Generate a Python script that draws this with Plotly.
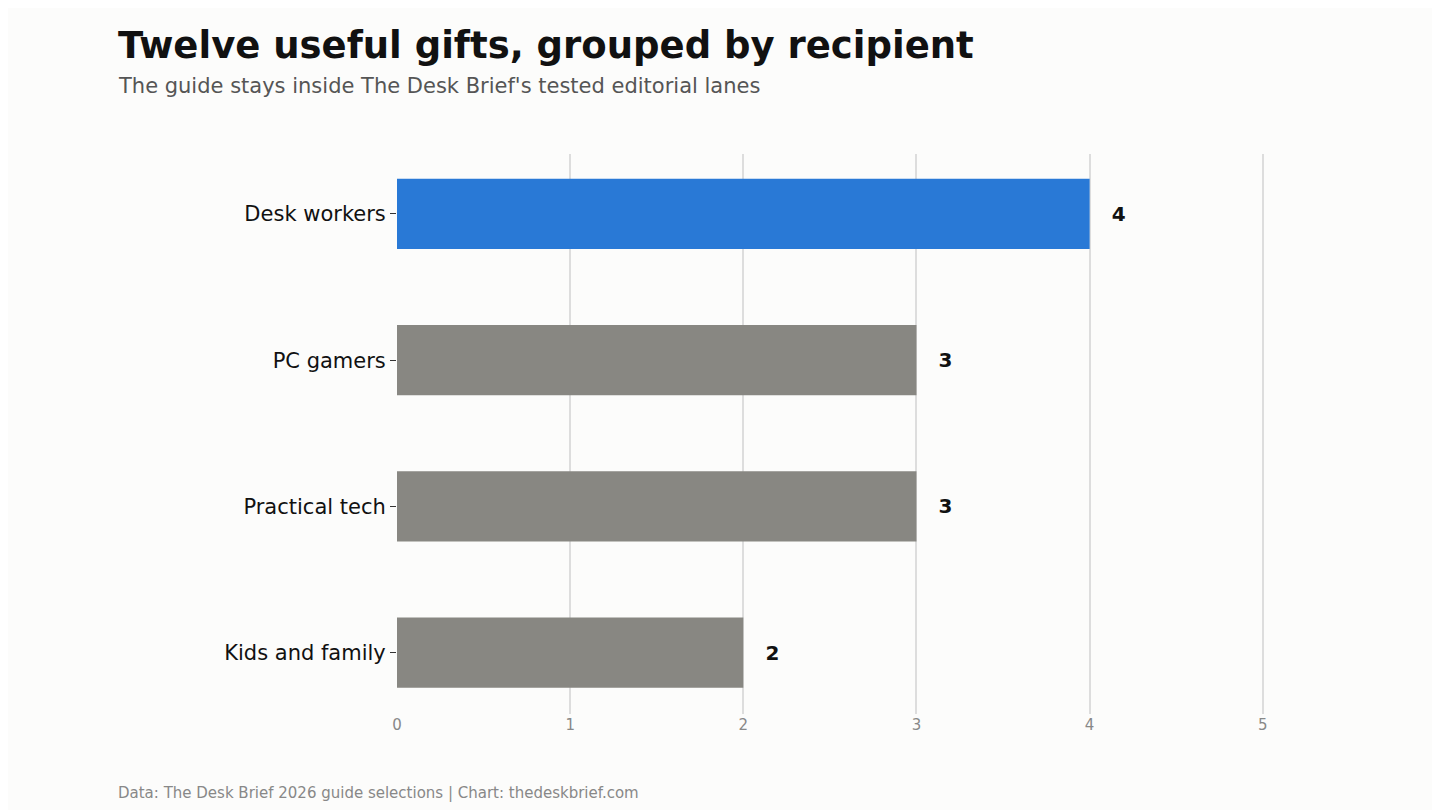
import plotly.graph_objects as go

# chart data
categories = ["Kids and family", "Practical tech", "PC gamers", "Desk workers"]
gift_counts = [2, 3, 3, 4]
bar_colors = ["#888782", "#888782", "#888782", "#2979d6"]

fig = go.Figure(go.Bar(
    x=gift_counts,
    y=categories,
    orientation="h",
    marker=dict(color=bar_colors, line=dict(width=0)),
    text=[str(v) for v in gift_counts],
    textposition="outside",
    textfont=dict(size=20, color="#111111", family="DejaVu Sans"),
    texttemplate="   <b>%{text}</b>",
    cliponaxis=False,
    width=0.48,
))

fig.update_layout(
    width=1440, height=810,
    paper_bgcolor="#fcfcfb", plot_bgcolor="#fcfcfb",
    font=dict(family="DejaVu Sans"),
    margin=dict(l=389, r=180, t=146, b=104),
    showlegend=False,
    xaxis=dict(
        range=[0, 5.03], tickvals=[0, 1, 2, 3, 4, 5], showgrid=True, gridcolor="#dddddd", gridwidth=1.5,
        zeroline=False, showline=False,
        tickfont=dict(size=15, color="#888888"),
    ),
    yaxis=dict(
        range=[-0.42, 3.41], showgrid=False, zeroline=False,
        ticks="outside", ticklen=6, tickcolor="#333333",
        tickfont=dict(size=21, color="#111111"),
    ),
    annotations=[
        dict(text="<b>Twelve useful gifts, grouped by recipient</b>", xref="paper", yref="paper",
             x=0, y=1, xshift=-281, yshift=109, xanchor="left", yanchor="middle",
             showarrow=False, font=dict(size=37, color="#111111")),
        dict(text="The guide stays inside The Desk Brief's tested editorial lanes", xref="paper", yref="paper",
             x=0, y=1, xshift=-281, yshift=68, xanchor="left", yanchor="middle",
             showarrow=False, font=dict(size=21, color="#555555")),
        dict(text="Data: The Desk Brief 2026 guide selections | Chart: thedeskbrief.com", xref="paper", yref="paper",
             x=0, y=0, xshift=-281, yshift=-79, xanchor="left", yanchor="middle",
             showarrow=False, font=dict(size=15, color="#888888")),
    ],
)

fig.write_html("out.html")
